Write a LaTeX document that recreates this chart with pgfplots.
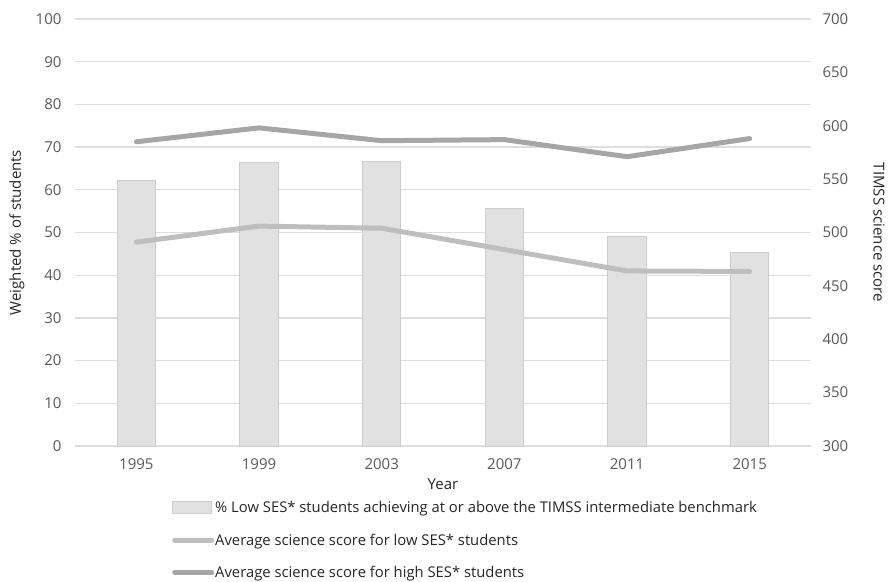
\documentclass[border=0pt]{standalone}
\usepackage{fontspec}
\setmainfont{Open Sans}
\usepackage{pgfplots}
\pgfplotsset{compat=1.18}
\definecolor{tickc}{HTML}{595959}
\definecolor{gridc}{HTML}{DEDEDE}
\definecolor{barfill}{HTML}{E1E1E1}
\definecolor{barline}{HTML}{CDCDCD}
\definecolor{lowc}{HTML}{BEBEBE}
\definecolor{highc}{HTML}{A6A6A6}
\pgfplotsset{linelegend/.style={legend image code/.code={\draw[##1] (2pt,0pt) -- (39pt,0pt);}}}
\begin{document}
\begin{tikzpicture}[font=\fontsize{13}{15}\selectfont]
\path[use as bounding box] (-75pt,-135pt) rectangle (818pt,446pt);
\begin{axis}[
  at={(0pt,0pt)}, anchor=south west,
  scale only axis, width=736pt, height=427pt,
  xmin=-0.5, xmax=5.5, ymin=0, ymax=100,
  xtick={0,1,2,3,4,5},
  xticklabels={1995,1999,2003,2007,2011,2015},
  ytick={0,10,...,100},
  ymajorgrids, grid style={gridc, line width=1.2pt},
  axis line style={draw=none}, major tick length=0pt,
  tick label style={tickc, font=\fontsize{15}{17}\selectfont},
  /pgf/number format/assume math mode=true,
  yticklabel style={xshift=-10pt},
  xticklabel style={yshift=-9pt},
  ylabel={Weighted \% of students},
  ylabel style={font=\fontsize{15}{17}\selectfont, color=black!85, at={(-58pt,213.5pt)}, anchor=center},
  xlabel={Year},
  xlabel style={font=\fontsize{15}{17}\selectfont, color=black!85, at={(368pt,-38pt)}, anchor=center},
]
\addplot[ybar, bar width=0.31, fill=barfill, draw=barline, line width=1pt]
  coordinates {(0,62.1) (1,66.3) (2,66.7) (3,55.7) (4,49.0) (5,45.4)};
\end{axis}
\begin{axis}[
  at={(0pt,0pt)}, anchor=south west,
  scale only axis, width=736pt, height=427pt,
  xmin=-0.5, xmax=5.5, ymin=300, ymax=700,
  xtick=\empty,
  ytick={300,350,...,700},
  axis y line*=right,
  axis line style={draw=none}, major tick length=0pt,
  tick label style={tickc, font=\fontsize{15}{17}\selectfont},
  /pgf/number format/assume math mode=true,
  yticklabel style={xshift=8pt},
  ylabel={TIMSS science score},
  ylabel style={font=\fontsize{15}{17}\selectfont, color=black!85, at={(804pt,213.5pt)}, anchor=center, rotate=180},
  legend cell align=left,
  legend style={draw=none, fill=none, at={(0.1318,-0.127)}, anchor=north west,
    inner sep=0pt, row sep=17.5pt,
    nodes={inner sep=1pt, font=\fontsize{14.8}{17}\selectfont, text=black!85},
    /tikz/every even column/.append style={column sep=0pt}},
]
\addlegendimage{legend image code/.code={\draw[fill=barfill,draw=barline,line width=1pt] (0pt,-6pt) rectangle (39pt,6pt);}}
\addlegendentry{\% Low SES* students achieving at or above the TIMSS intermediate benchmark}
\addplot[lowc, line width=5pt, line cap=round, line join=round, linelegend]
  coordinates {(0,491) (1,506) (2,504) (3,484) (4,464) (5,463.5)};
\addlegendentry{Average science score for low SES* students}
\addplot[highc, line width=5pt, line cap=round, line join=round, linelegend]
  coordinates {(0,585) (1,598) (2,586) (3,587) (4,571) (5,588)};
\addlegendentry{Average science score for high SES* students}
\end{axis}
\end{tikzpicture}
\end{document}
